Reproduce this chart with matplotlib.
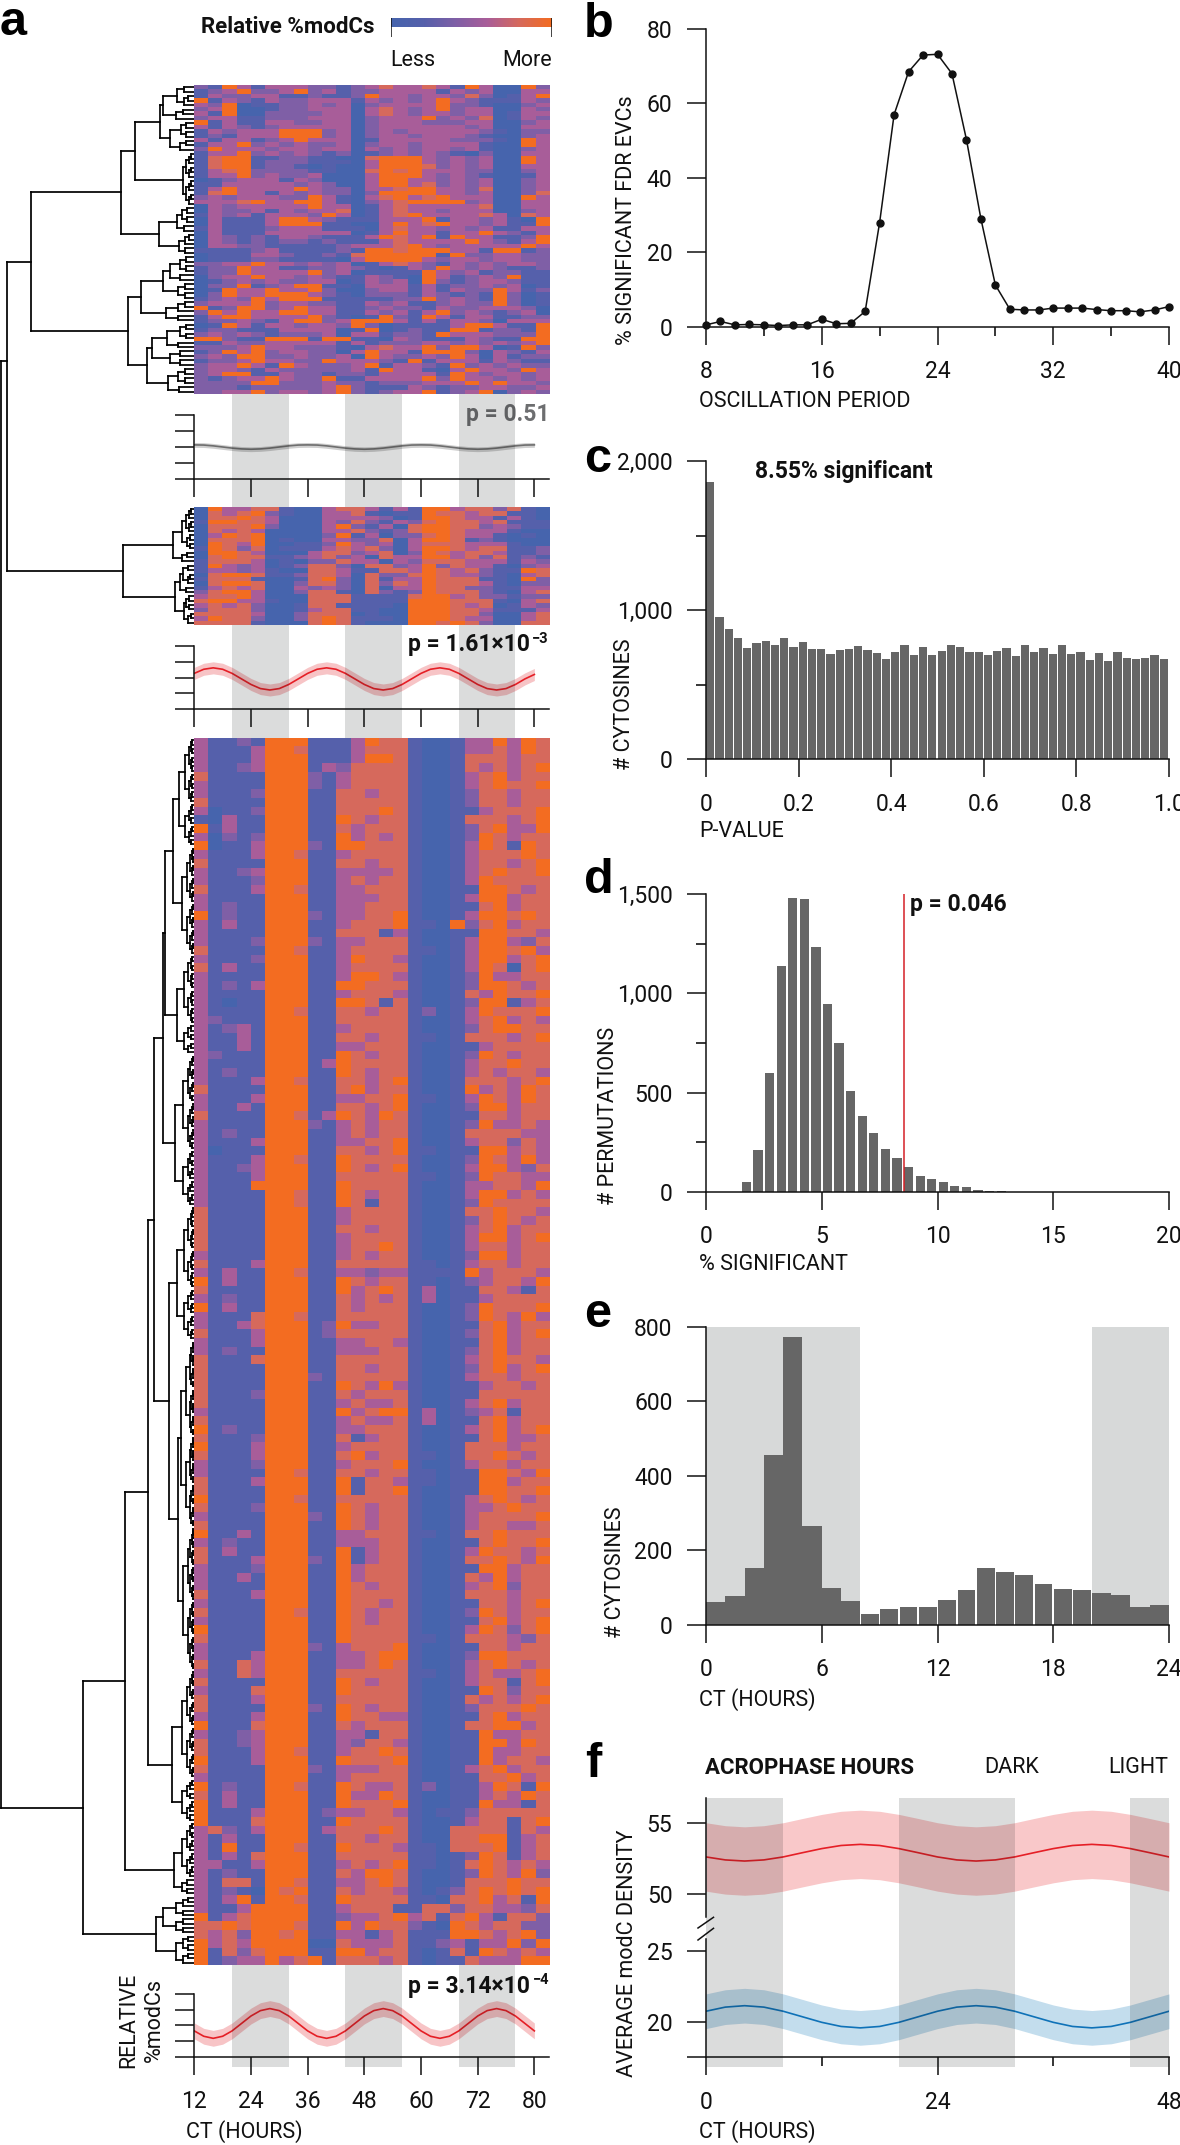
import numpy as np
import matplotlib
matplotlib.use('Agg')
import matplotlib.pyplot as plt
from matplotlib.colors import LinearSegmentedColormap
from matplotlib.collections import LineCollection
from matplotlib.lines import Line2D

W, H = 1180, 2145
FONT = ['Roboto', 'Liberation Sans', 'DejaVu Sans']
plt.rcParams['font.family'] = FONT

'''DATA'''
# heatmap rows, 25 time columns, level 0 (less) .. 5 (more), blocks of 5 for reading
heat_top = """
21531 33322 12343 34315 30052
12352 23523 12233 33132 30033
13223 31121 12533 23324 20135
51321 32233 31323 23532 11132
32501 12232 30233 33522 10023
23500 12233 30343 23523 30032
31500 22223 30343 23323 30133
23311 22233 30233 35232 40132
51311 33223 30233 32223 30023
31321 23333 30233 33332 30033
13233 35552 30232 33333 21022
12133 35552 30233 23332 10023
31331 23533 30133 33322 21053
13352 32322 30233 23333 10053
25333 23323 30323 23323 10023
13352 32321 20123 23210 20033
14551 12211 00455 53232 30053
14551 22211 10355 53232 30053
14551 22101 00355 54232 30033
13452 22211 00454 53332 20023
13352 32230 00355 53232 10013
01233 31320 00355 33232 30023
11333 33232 00355 34232 30023
13533 33532 20334 55332 40023
14533 13232 20255 55332 30024
23233 32253 10345 34533 30053
33345 33553 10234 55552 30033
03233 33353 30134 33333 40033
03223 13233 40134 33233 30023
13231 33325 30134 53333 43043
03111 35532 11133 35133 23105
03111 35551 10035 34533 23115
13111 23331 11034 33232 31133
03111 33333 30135 33133 53213
03212 13321 11354 35153 31125
03212 12212 11134 33335 32135
03322 11111 23334 53233 33353
11112 31111 21554 55533 15512
01113 32112 14555 55152 23322
01112 21111 03555 53233 23322
22335 33232 30134 32132 32332
12253 31122 32101 32532 32112
12253 33352 30111 15323 12211
02335 33232 11321 05312 32511
01232 32233 01323 05212 33211
02251 23551 10333 13122 32301
01533 53352 00233 13132 25312
02533 55532 10222 13212 15201
12325 35551 11112 25232 15201
23335 23322 11323 11232 25201
51255 23533 11232 21322 33320
25353 35533 11323 13523 21230
13553 33352 10152 15313 31122
12232 13552 35553 13133 20333
01531 33233 25201 11135 53115
12211 13333 01501 21155 12215
23232 12223 03312 21533 32225
55211 55515 51103 21113 21155
11322 33333 13122 23323 23235
22235 33222 10343 35255 30152
12535 23322 03533 15552 03213
23255 22322 30532 23253 03122
12235 33225 33321 51333 13211
23353 15322 23513 32152 32322
23321 32222 23153 31035 33253
23551 13221 22133 33153 23323
21233 53225 11333 35253 32323
22225 52223 22122 23335 35332
22212 22223 52111 32122 33223
22335 23323 52123 35123 50232
"""

heat_mid = """
05334 41003 44313 15534 42410
04345 21003 34101 15443 44110
04454 30003 33320 15543 31310
15544 30003 24213 24544 34111
04445 20003 52130 45544 23211
04343 00003 34212 45543 33100
03545 00002 51302 24543 31010
04445 01003 32240 35541 21000
05435 00112 53230 34443 33100
15424 01113 43420 35543 44112
05543 00034 42340 25434 43112
04544 11234 23043 35534 24121
14443 01022 43303 24443 33132
15323 01244 20442 35243 31023
13323 10044 31144 35434 21154
04554 11244 30422 45433 21034
14441 00145 20413 35444 11052
04554 00244 20424 35444 31022
13434 00323 20403 35442 21133
24553 00244 10421 25444 21034
34453 00044 41111 45534 22122
45533 10044 41111 55544 41034
34342 00144 11110 55543 40132
24442 00134 41100 55544 31113
44443 00244 40100 55544 20034
35442 00245 41110 55543 30034
44441 00045 41000 55454 20044
"""

heat_bot = """
31121 55511 13544 10013 35354
31113 55411 13444 10013 34354
31113 55511 13554 10014 44344
31123 55513 24444 10014 34345
41111 55521 34444 10013 45344
31111 55521 34444 10013 45445
31112 55511 44344 10012 44344
41111 55511 44444 10012 44344
30112 55511 44454 10011 34445
10311 55511 54344 10014 44345
51311 55511 43444 10012 45335
30212 55511 53434 10012 54344
50113 55521 55444 10013 54154
31113 55411 34444 10013 44454
41111 55511 44344 10013 44345
31123 55511 33334 10013 45445
31112 55511 34344 10013 54444
41113 55411 33444 10011 55434
31111 55511 33344 10013 55344
31211 55511 33444 10011 45344
51211 55521 33445 10013 55454
31311 55511 34445 11052 45344
31111 55511 44413 10011 55443
31112 55521 33444 10013 55324
41111 55411 34444 11013 55453
31112 55511 35443 10013 55345
41311 55511 34444 10013 54045
31111 55511 35543 10012 53344
31213 55511 55444 10012 55434
31111 55511 34443 10014 35445
31011 55511 55414 10012 55134
31111 55411 44344 12013 54445
32111 55511 44444 10013 45343
31231 55511 34444 10012 45544
31131 55511 44344 11014 44345
31131 55511 33444 10011 34444
32111 55511 54344 10012 54344
31111 55513 54444 10013 44544
31211 55511 54344 10013 43443
31113 55411 44345 10014 44345
41111 55511 45344 10015 34354
31113 55511 33445 11013 54354
31131 55511 44345 10012 55344
41111 55413 54354 10011 44344
31111 55521 34344 10012 53343
31211 55511 34344 10014 44433
31113 55511 33445 10013 44243
30111 55511 44345 11011 55343
31113 55411 54444 10012 54353
31123 55511 54345 10013 55324
31113 55511 44444 11012 54433
31115 55511 54444 10013 34435
31111 55411 54344 10013 55343
31111 55411 54144 10012 54444
41111 55511 34444 10014 45443
41111 55511 34444 10012 45434
41111 55511 44344 10013 45344
41111 55511 34444 10013 55345
41111 55511 34454 10013 44344
31111 55511 34344 10012 55344
41113 55511 44444 11013 44344
31311 55411 33233 11115 34443
51311 55511 54344 11012 34435
41111 55511 53454 13011 44314
31211 55511 43434 13011 34444
51311 55511 43444 10012 54445
31114 55411 44444 10012 54353
31134 55512 53344 10011 45344
41113 55512 44444 10012 45345
31113 55511 33443 10011 45344
31211 55511 33344 10012 45344
41114 55511 44444 10013 45443
41111 55511 44344 10012 45345
41111 55521 44444 10013 44344
41111 55511 54353 10011 34434
41112 55511 43444 10011 44444
41111 55511 34334 10013 45344
31111 55511 53455 13012 34144
41111 55511 34334 13011 45344
51211 55511 33444 10013 45345
41112 55511 41344 10011 45334
51113 55511 34444 10014 44344
41113 55511 45344 11014 45434
31112 55511 34445 10013 44344
31111 55411 44344 11011 55435
41113 55511 51443 11011 55344
41111 55511 51445 10011 55445
51111 55411 44444 10013 45434
41112 55511 54344 10013 34544
31111 55521 54344 10013 44445
41111 55511 54344 10013 44334
51131 55511 33444 11014 45444
31211 55511 33344 10011 45445
41311 55511 51344 10013 54434
41113 55521 51344 10014 45435
31112 55511 53444 10011 55344
31131 55511 53444 10014 35344
31111 55511 54344 10013 45244
41113 55511 54444 10014 44344
31111 55511 54434 10011 44345
41111 55411 54344 10012 54344
31111 55511 54344 10011 45345
51111 55511 54444 10013 54245
41111 55511 54444 11014 44324
31111 55521 34445 10011 44344
31113 55511 33455 10012 55444
41143 55511 33454 10013 45434
31143 55511 44444 11013 43345
41111 55511 54344 10013 44145
31114 55511 54444 10011 54244
41113 55511 44444 10014 34345
41111 55521 54344 10012 44454
31113 55511 54433 10011 45344
51114 55511 43444 10014 45534
31123 55511 33144 10011 53344
41123 55511 32443 10011 55354
41113 55411 34454 10011 53344
51113 55511 54445 10011 53443
41111 55521 33344 10013 45344
31111 55511 34444 10011 44534
51211 55411 54334 12011 35415
41311 55511 53354 10011 34354
51311 55511 54445 10011 53314
51113 55512 33443 10112 44444
51114 55511 54444 10013 44145
34213 55513 44454 10044 44143
31311 55511 44344 10044 55134
31511 55411 54443 11044 45134
31314 55511 44444 11012 54134
33113 55511 34345 11014 54343
31211 55511 43554 10012 54352
31441 55411 33454 10014 44544
31210 54511 43443 10124 54545
31351 55411 54444 11044 53415
31135 55511 34441 14424 43324
51345 55511 23345 34145 31442
44545 55411 53544 21054 34422
43425 54511 33134 11155 43452
53435 55500 43334 11231 33525
51424 55511 55344 10141 54343
51233 53451 44434 10114 33355
"""

# dendrogram: (merge x, left, right); an int is a tight bunch of rows
tree_top = (31,
            (121,
             (134.5,
              (160, (162.6, (176.5, 2, 3), 3), (170, (181, 2, 2), 3)),
              (182.7, (186, 3, 3), (186, 3, 3))),
             (159.3, (177, (182, 2, 2), 2), (178.6, 3, 2))),
            (128,
             (140.7, (162.6, (170, (180, 2, 2), 2), (178, 2, 2)), (166, (178, 2, 1), 2)),
             (147, (152, (167, (180, 2, 2), 2), (170, 2, 2)), (168, (178, 2, 2), 2))))
tree_mid = (123,
            (172.7, (182, (186, 3, 3), 4), 3),
            (174.7, (180, (183, 2, 3), 2), (184, (186, 2, 2), 3)))
tree_bot = (83.3,
            (125,
             (148.3,
              (154,
               (162.7,
                (165,
                 (173.3, (179.3, 15, 10), (181.7, 13, 12)),
                 (176.7, 16, 7)),
                (175, 22, 13)),
               (169,
                (176.7, 19, 12),
                (178.3, (181, 22, 21), (183, 17, 16)))),
              (171.7, (181.7, 13, 12), (181.7, 5, 5))),
             (174, 13, 4)),
            (156, (162.7, 5, 4), (175.7, 4, 3)))
tree_link_x = [6.6, 1]
tree_link_frac = 0.32

ct_hours = [12, 14, 16, 18, 20, 22, 24, 26, 28, 30, 32, 34, 36, 38, 40, 42, 44, 46, 48,
            50, 52, 54, 56, 58, 60, 62, 64, 66, 68, 70, 72, 74, 76, 78, 80, 82, 84]
curve_top = [2.14, 2.13, 2.08, 2.01, 1.94, 1.89, 1.87, 1.89, 1.94, 2.01, 2.08, 2.13,
             2.14, 2.13, 2.08, 2.01, 1.94, 1.89, 1.87, 1.89, 1.94, 2.01, 2.08, 2.13,
             2.14, 2.13, 2.08, 2.01, 1.94, 1.89, 1.87, 1.89, 1.94, 2.01, 2.08, 2.13, 2.14]
curve_mid = [2.27, 2.53, 2.62, 2.53, 2.27, 1.92, 1.57, 1.31, 1.22, 1.31, 1.57, 1.92,
             2.27, 2.53, 2.62, 2.53, 2.27, 1.92, 1.57, 1.31, 1.22, 1.31, 1.57, 1.92,
             2.27, 2.53, 2.62, 2.53, 2.27, 1.92, 1.57, 1.31, 1.22, 1.31, 1.57, 1.92, 2.2]
curve_bot = [1.65, 1.31, 1.18, 1.31, 1.65, 2.12, 2.59, 2.93, 3.06, 2.93, 2.59, 2.12,
             1.65, 1.31, 1.18, 1.31, 1.65, 2.12, 2.59, 2.93, 3.06, 2.93, 2.59, 2.12,
             1.65, 1.31, 1.18, 1.31, 1.65, 2.12, 2.59, 2.93, 3.06, 2.93, 2.59, 2.12, 1.65]
spread_top, spread_mid, spread_bot = 0.15, 0.38, 0.5
ct_ticks = [12, 24, 36, 48, 60, 72, 84]
ct_labels = ['12', '24', '36', '48', '60', '72', '80']
dark_a = [(20, 32), (44, 56), (68, 80)]

period = list(range(8, 41))
pct_fdr = [0.5, 1.4, 0.5, 0.6, 0.5, 0.3, 0.5, 0.5, 2, 0.8, 0.9, 4.1, 28, 57, 68.5, 73, 73.2,
           68, 50.3, 29, 11.2, 4.7, 4.5, 4.5, 5, 5, 5, 4.6, 4.3, 4.3, 4, 4.5, 5.4]

pval_counts = [1859, 952, 876, 816, 746, 780, 793, 769, 816, 755, 784, 740, 742, 708, 733,
               740, 760, 733, 713, 675, 720, 766, 702, 753, 699, 726, 766, 751, 720, 720,
               702, 726, 746, 693, 766, 722, 746, 708, 769, 708, 720, 668, 713, 659, 722,
               682, 670, 682, 702, 673]

perm_edges = [1.5, 2, 2.5, 3, 3.5, 4, 4.5, 5, 5.5, 6, 6.5, 7, 7.5, 8, 8.5, 9, 9.5, 10, 10.5,
              11, 11.5, 12, 12.5]
perm_counts = [49, 213, 600, 1139, 1478, 1473, 1232, 948, 750, 507, 381, 299, 215, 173, 126,
               81, 67, 52, 32, 25, 10, 7, 3]
observed_pct = 8.55

acro_counts = [60, 78, 152, 456, 772, 265, 99, 64, 30, 43, 47, 47, 67, 93, 153, 141, 133,
               110, 96, 92, 85, 80, 48, 53]
dark_e = [(0, 8), (20, 24)]

hours_f = [0, 2, 4, 6, 8, 10, 12, 14, 16, 18, 20, 22, 24, 26, 28, 30, 32, 34, 36, 38, 40, 42, 44, 46, 48]
dens_high = [52.62, 52.41, 52.33, 52.41, 52.62, 52.92, 53.21, 53.43, 53.51, 53.43, 53.21, 52.92,
             52.62, 52.41, 52.33, 52.41, 52.62, 52.92, 53.21, 53.43, 53.51, 53.43, 53.21, 52.92, 52.62]
dens_low = [20.74, 21.03, 21.13, 21.03, 20.74, 20.35, 19.96, 19.67, 19.57, 19.67, 19.96, 20.35,
            20.74, 21.03, 21.13, 21.03, 20.74, 20.35, 19.96, 19.67, 19.57, 19.67, 19.96, 20.35, 20.74]
spread_high, spread_low = 2.42, 1.22
dark_f = [(0, 8), (20, 32), (44, 48)]

'''STYLE'''
BLACK = '#111111'
BAR = '#666666'
BAND = '#d7d9d9'
heat_cmap = LinearSegmentedColormap.from_list(
    'modc', ['#4664ad', '#5560ab', '#7f5fa6', '#a95d99', '#d6695c', '#f36c21'])
FS = 15.5
TICK_FS = 16.5

fig = plt.figure(figsize=(W / 100, H / 100), dpi=100)


def box(x0, y0, x1, y1, **kw):
    return fig.add_axes([x0 / W, 1 - y1 / H, (x1 - x0) / W, (y1 - y0) / H], **kw)


def txt(x, y, s, **kw):
    kw.setdefault('va', 'center')
    kw.setdefault('fontsize', FS)
    kw.setdefault('color', BLACK)
    return fig.text(x / W, 1 - y / H, s, **kw)


def px(n):
    return n * 0.72


def style(ax, major_x=18.4, minor_x=9.4, major_y=19.5, minor_y=10):
    ax.patch.set_alpha(0)
    for s in ['top', 'right']:
        ax.spines[s].set_visible(False)
    for s in ['left', 'bottom']:
        ax.spines[s].set_linewidth(1.1)
        ax.spines[s].set_color(BLACK)
    ax.tick_params(axis='x', which='major', length=px(major_x), width=1.1, pad=px(15), labelsize=TICK_FS, colors=BLACK)
    ax.tick_params(axis='x', which='minor', length=px(minor_x), width=1.1)
    ax.tick_params(axis='y', which='major', length=px(major_y), width=1.1, pad=px(14), labelsize=TICK_FS, colors=BLACK)
    ax.tick_params(axis='y', which='minor', length=px(minor_y), width=1.1)


def rows(block):
    return np.array([[int(c) for c in line.replace(' ', '')]
                     for line in block.strip().splitlines()])


def heat(block, y0, y1):
    ax = box(194, y0, 549.5, y1)
    ax.imshow(rows(block), cmap=heat_cmap, vmin=0, vmax=5, aspect='auto', interpolation='nearest')
    ax.axis('off')


def bands(y0, y1, x0, x1, xlim, spans):
    ax = box(x0, y0, x1, y1)
    ax.set_zorder(5)
    ax.set_xlim(*xlim)
    ax.axis('off')
    for a, b in spans:
        ax.axvspan(a, b, color='#101414', alpha=0.15, lw=0)


def rhythm(y_tick4, y_tick0, curve, spread, line, fill, labels=False):
    ax = box(194.3, y_tick4, 549, y_tick0)
    c = np.array(curve)
    ax.fill_between(ct_hours, c - spread, c + spread, color=fill, lw=0)
    ax.plot(ct_hours, c, color=line, lw=1.2)
    ax.set_xlim(12, 87.1)
    ax.set_ylim(0, 4)
    style(ax)
    ax.set_yticks([0, 1, 2, 3, 4], [''] * 5)
    ax.set_xticks(ct_ticks, ct_labels if labels else [''] * len(ct_ticks))
    return ax


def pvalue(y, main, power):
    # superscript kept as its own text so it can sit flush right
    sup = txt(549, y - 6, power, ha='right', fontweight='bold', fontsize=10.5)
    txt(549 - 19, y, main, ha='right', fontweight='bold', fontsize=16.5)
    return sup


# panel a heatmaps
heat(heat_top, 85, 394)
heat(heat_mid, 507, 624.7)
heat(heat_bot, 738, 1965)

# dendrogram, one unit = one picture pixel
ax_tree = box(0, 0, 194, H)
ax_tree.set_xlim(0, 194)
ax_tree.set_ylim(H, 0)
ax_tree.axis('off')


def n_leaves(node):
    if isinstance(node, int):
        return node
    return n_leaves(node[1]) + n_leaves(node[2])


def leaf_ys(tree, y0, y1):
    n = n_leaves(tree)
    return list(y0 + (np.arange(n) + 0.5) * (y1 - y0) / n)


segs = []


def place(node, parent_x, leaves):
    if isinstance(node, int):
        if node == 1:
            return leaves.pop(0), 194
        node = (parent_x + (194 - parent_x) * 0.42, node - node // 2, node // 2)
    x = node[0]
    ya, xa = place(node[1], x, leaves)
    yb, xb = place(node[2], x, leaves)
    segs.append([(x, ya), (x, yb)])
    segs.append([(x, ya), (xa, ya)])
    segs.append([(x, yb), (xb, yb)])
    return (ya + yb) / 2, x


y1, x1 = place(tree_top, 0, leaf_ys(tree_top, 85, 394))
y2, x2 = place(tree_mid, 0, leaf_ys(tree_mid, 507, 624.7))
y3, x3 = place(tree_bot, 0, leaf_ys(tree_bot, 738, 1965))
link = y1 + (y2 - y1) * tree_link_frac
segs += [[(tree_link_x[0], y1), (tree_link_x[0], y2)],
         [(tree_link_x[0], y1), (x1, y1)],
         [(tree_link_x[0], y2), (x2, y2)],
         [(tree_link_x[1], link), (tree_link_x[1], y3)],
         [(tree_link_x[1], link), (tree_link_x[0], link)],
         [(tree_link_x[1], y3), (x3, y3)]]
ax_tree.add_collection(LineCollection(segs, colors='black', linewidths=1.25, capstyle='projecting'))

# panel a rhythm strips
rhythm(415, 479.3, curve_top, spread_top, '#6e6e6e', '#cfcfcf')
rhythm(646, 709.3, curve_mid, spread_mid, '#e51f26', '#f7c4c6')
rhythm(1993.7, 2057, curve_bot, spread_bot, '#e51f26', '#f7c4c6', labels=True)
bands(394, 507, 194.3, 549, (12, 87.1), dark_a)
bands(624.7, 738, 194.3, 549, (12, 87.1), dark_a)
bands(1965, 2066.7, 194.3, 549, (12, 87.1), dark_a)

txt(549, 415, 'p = 0.51', ha='right', fontweight='bold', color='#6d6e70', fontsize=16.5)
pvalue(645, 'p = 1.61×10', '−3')
pvalue(1986, 'p = 3.14×10', '−4')
txt(129, 2020, 'RELATIVE', rotation=90, ha='center')
txt(154, 2020, '%modCs', rotation=90, ha='center')
txt(186, 2132, 'CT (HOURS)')

# colour key
ax_key = box(391, 18, 551.7, 36.7)
ax_key.imshow(np.linspace(0, 1, 128)[None, :], cmap=heat_cmap, aspect='auto', extent=(0, 1, 0.5, 1))
ax_key.vlines([0, 1], 0, 1, color=BLACK, lw=1.1)
ax_key.set_xlim(0, 1)
ax_key.set_ylim(0, 1)
ax_key.axis('off')
txt(374.5, 27, 'Relative %modCs', ha='right', fontweight='bold', fontsize=16)
txt(390, 60, 'Less')
txt(552, 60, 'More', ha='right')

# panel b
ax = box(706, 29, 1169, 326.7)
ax.plot(period, pct_fdr, color=BLACK, lw=1.1, marker='o', ms=5, clip_on=False, zorder=4)
ax.set_xlim(8, 40)
ax.set_ylim(0, 80)
style(ax)
ax.set_xticks([8, 16, 24, 32, 40])
ax.set_xticks([12, 20, 28, 36], minor=True)
ax.set_yticks([0, 20, 40, 60, 80])
txt(699, 401.7, 'OSCILLATION PERIOD')
txt(626.7, 220, '% SIGNIFICANT FDR EVCs', rotation=90, ha='center')

# panel c
ax = box(706, 461, 1169, 759.3)
pval_left = np.arange(len(pval_counts)) / len(pval_counts)
ax.bar(pval_left, pval_counts, width=0.0178, align='edge', color=BAR, lw=0)
ax.set_xlim(0, 1)
ax.set_ylim(0, 2000)
style(ax)
ax.set_xticks([0, 0.2, 0.4, 0.6, 0.8, 1.0], ['0', '0.2', '0.4', '0.6', '0.8', '1.0'])
ax.set_yticks([0, 1000, 2000], ['0', '1,000', '2,000'])
ax.set_yticks([500, 1500], minor=True)
txt(699, 831.7, 'P-VALUE')
txt(624.7, 704, '# CYTOSINES', rotation=90, ha='center')
txt(755, 471.7, '8.55% significant', fontweight='bold', fontsize=16.5)

# panel d
ax = box(706, 894, 1169, 1192)
ax.bar(np.array(perm_edges) + 0.05, perm_counts, width=0.4, align='edge', color=BAR, lw=0)
ax.plot([observed_pct, observed_pct], [0, 1500], color='#d42027', lw=1.1)
ax.set_xlim(0, 20)
ax.set_ylim(0, 1500)
style(ax)
ax.set_xticks([0, 5, 10, 15, 20])
ax.set_yticks([0, 500, 1000, 1500], ['0', '500', '1,000', '1,500'])
ax.set_yticks([250, 750, 1250], minor=True)
txt(699, 1265, '% SIGNIFICANT')
txt(609, 1115.7, '# PERMUTATIONS', rotation=90, ha='center')
txt(910, 904, 'p = 0.046', fontweight='bold', fontsize=16.5)

# panel e
ax = box(706, 1326.7, 1169, 1624.7)
for a, b in dark_e:
    ax.axvspan(a, b, color=BAND, lw=0, zorder=0)
for i, v in enumerate(acro_counts):
    in_dark = any(a <= i < b for a, b in dark_e)
    ax.bar(i + 0.5, v, width=1 if in_dark else 0.92, color=BAR, lw=0, zorder=2)
ax.set_xlim(0, 24)
ax.set_ylim(0, 800)
style(ax)
ax.set_xticks([0, 6, 12, 18, 24])
ax.set_yticks([0, 200, 400, 600, 800])
txt(699, 1700, 'CT (HOURS)')
txt(615, 1572.5, '# CYTOSINES', rotation=90, ha='center')

# panel f, broken y axis
high = np.array(dens_high)
low = np.array(dens_low)
ax_hi = box(706, 1798.3, 1169, 1917)
ax_hi.fill_between(hours_f, high - spread_high, high + spread_high, color='#f9c8c9', lw=0)
ax_hi.plot(hours_f, high, color='#e51f26', lw=1.2)
ax_hi.set_xlim(0, 48)
ax_hi.set_ylim(48.37, 56.77)
style(ax_hi)
ax_hi.spines['bottom'].set_visible(False)
ax_hi.set_xticks([])
ax_hi.set_yticks([50, 55])

ax_lo = box(706, 1939.3, 1169, 2057.3)
ax_lo.fill_between(hours_f, low - spread_low, low + spread_low, color='#c3dded', lw=0)
ax_lo.plot(hours_f, low, color='#0f72b8', lw=1.2)
ax_lo.set_xlim(0, 48)
ax_lo.set_ylim(17.5, 25.8)
style(ax_lo)
ax_lo.set_xticks([0, 24, 48])
ax_lo.set_xticks([12, 36], minor=True)
ax_lo.set_yticks([17.5, 20, 25], ['', '20', '25'])
bands(1798.3, 2066.7, 706, 1169, (0, 48), dark_f)

for ya, yb in [(1928, 1917.3), (1940, 1928.3)]:
    fig.add_artist(Line2D([698 / W, 713.5 / W], [1 - ya / H, 1 - yb / H], color=BLACK, lw=1.1))

txt(699, 2131.7, 'CT (HOURS)')
txt(627.5, 1953, 'AVERAGE modC DENSITY', rotation=90, ha='center')
txt(705, 1767.7, 'ACROPHASE HOURS', fontweight='bold', fontsize=16)
txt(984.5, 1767.7, 'DARK')
txt(1168, 1767.7, 'LIGHT', ha='right')

# panel letters
for x, y, s in [(0, 35, 'a'), (584, 37, 'b'), (584, 472, 'c'), (584, 893, 'd'), (584, 1327, 'e'), (585, 1777, 'f')]:
    fig.text(x / W, 1 - y / H, s, family=['Liberation Sans'], fontweight='bold', fontsize=35, va='baseline', color='black')

fig.savefig('out.png', dpi=100)
